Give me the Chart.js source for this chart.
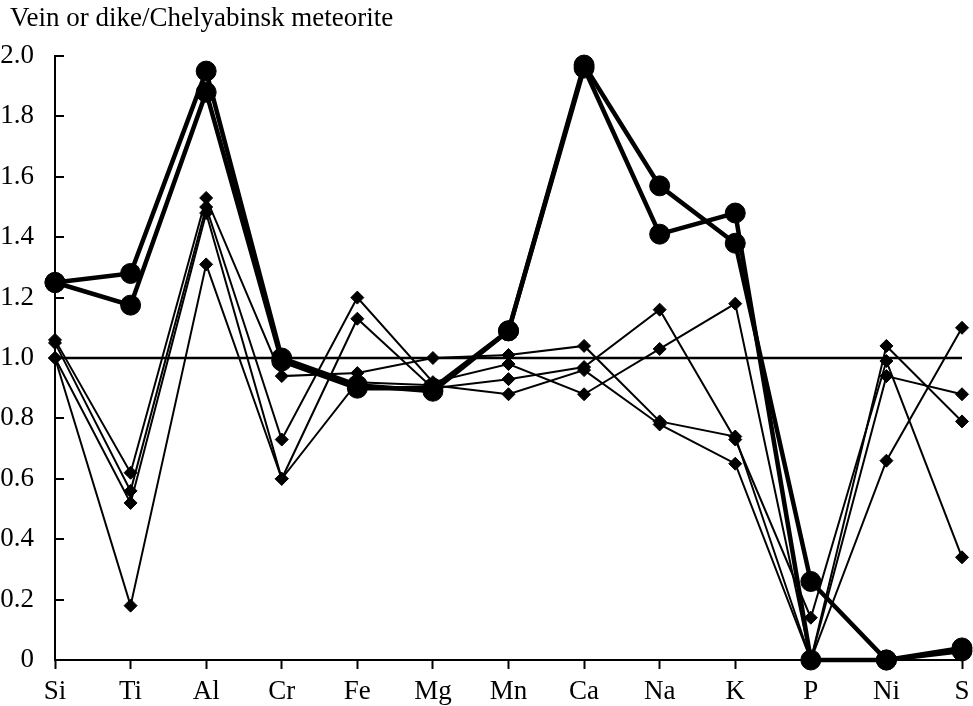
<!DOCTYPE html>
<html>
<head>
<meta charset="utf-8">
<script src="https://cdn.jsdelivr.net/npm/chart.js@4"></script>
<style>
html,body{margin:0;padding:0;background:#fff;}
#wrap{width:973px;height:706px;position:relative;}
</style>
</head>
<body>
<div id="wrap"><canvas id="c" width="973" height="706"></canvas></div>
<script>
const titleText = 'Vein or dike/Chelyabinsk meteorite';
const elements = ['Si','Ti','Al','Cr','Fe','Mg','Mn','Ca','Na','K','P','Ni','S'];
const yTicks = [0,0.2,0.4,0.6,0.8,1.0,1.2,1.4,1.6,1.8,2.0];

// vein / dike samples (large circles)
const circle1 = [1.25,1.28,1.95,1.00,0.91,0.89,1.09,1.97,1.57,1.38,0.26,0.00,0.04];
const circle2 = [1.25,1.175,1.88,0.99,0.90,0.90,1.09,1.96,1.41,1.48,0.00,0.00,0.03];
// other samples (diamonds)
const diamond1 = [1.06,0.62,1.53,0.94,0.95,1.00,1.01,1.04,0.79,0.74,0.00,1.04,0.79];
const diamond2 = [1.05,0.56,1.50,0.73,1.20,0.92,0.98,0.88,1.03,1.18,0.00,0.66,1.10];
const diamond3 = [1.00,0.52,1.48,0.60,1.13,0.90,0.93,0.97,1.16,0.73,0.14,0.99,0.34];
const diamond4 = [1.00,0.18,1.31,0.60,0.92,0.91,0.88,0.96,0.78,0.65,0.00,0.94,0.88];
// reference level
const refLine = [1,1,1,1,1,1,1,1,1,1,1,1,1];

const FONT = 'Liberation Serif';
const FSIZE = 27;

const circleStyle = {
  borderColor:'#000', backgroundColor:'#000', borderWidth:4.5,
  pointStyle:'circle', pointRadius:10, pointBorderWidth:1,
  pointBackgroundColor:'#000', pointBorderColor:'#000', tension:0
};
const diamondStyle = {
  borderColor:'#000', backgroundColor:'#000', borderWidth:2,
  pointStyle:'rectRot', pointRadius:6.5, pointBorderWidth:1,
  pointBackgroundColor:'#000', pointBorderColor:'#000', tension:0
};

const innerTicks = {
  id:'innerTicks',
  afterDraw(chart){
    const ctx = chart.ctx, y = chart.scales.y, left = chart.chartArea.left;
    ctx.save();
    ctx.strokeStyle = '#000';
    ctx.lineWidth = 2;
    yTicks.forEach(v=>{
      const py = Math.round(y.getPixelForValue(v));
      ctx.beginPath();
      ctx.moveTo(left, py);
      ctx.lineTo(left + 9, py);
      ctx.stroke();
    });
    ctx.restore();
  }
};

const topTitle = {
  id:'topTitle',
  afterDraw(chart){
    const ctx = chart.ctx;
    ctx.save();
    ctx.fillStyle = '#000';
    ctx.font = FSIZE + 'px "' + FONT + '"';
    ctx.textAlign = 'left';
    ctx.textBaseline = 'alphabetic';
    ctx.fillText(titleText, 10, 26);
    ctx.restore();
  }
};

new Chart(document.getElementById('c'), {
  type:'line',
  data:{
    labels: elements,
    datasets:[
      Object.assign({label:'vein 1', data:circle1}, circleStyle),
      Object.assign({label:'vein 2', data:circle2}, circleStyle),
      Object.assign({label:'sample 1', data:diamond1}, diamondStyle),
      Object.assign({label:'sample 2', data:diamond2}, diamondStyle),
      Object.assign({label:'sample 3', data:diamond3}, diamondStyle),
      Object.assign({label:'sample 4', data:diamond4}, diamondStyle),
      {label:'ref', data:refLine, borderColor:'#000', borderWidth:2.5, pointRadius:0, tension:0}
    ]
  },
  options:{
    responsive:false,
    animation:false,
    clip:false,
    layout:{padding:{left:0,right:-4,top:56,bottom:0}},
    plugins:{
      legend:{display:false},
      tooltip:{enabled:false},
      title:{display:false}
    },
    scales:{
      x:{
        type:'category',
        offset:false,
        grid:{display:true, drawOnChartArea:false, drawTicks:true, tickLength:9, tickWidth:2, tickColor:'#000', color:'#000'},
        border:{display:true, width:2, color:'#000'},
        ticks:{color:'#000', font:{family:FONT, size:FSIZE}, padding:7, maxRotation:0, autoSkip:false},
        afterFit(s){ s.height = 46; s.paddingRight = 0; s.paddingLeft = 0; }
      },
      y:{
        min:0, max:2.0,
        grid:{display:false},
        border:{display:true, width:2, color:'#000'},
        ticks:{
          color:'#000', font:{family:FONT, size:FSIZE}, padding:13, stepSize:0.2,
          callback:(v)=> v===0 ? '0' : Number(v).toFixed(1)
        },
        afterFit(s){ s.width = 55; }
      }
    }
  },
  plugins:[innerTicks, topTitle]
});
</script>
</body>
</html>
